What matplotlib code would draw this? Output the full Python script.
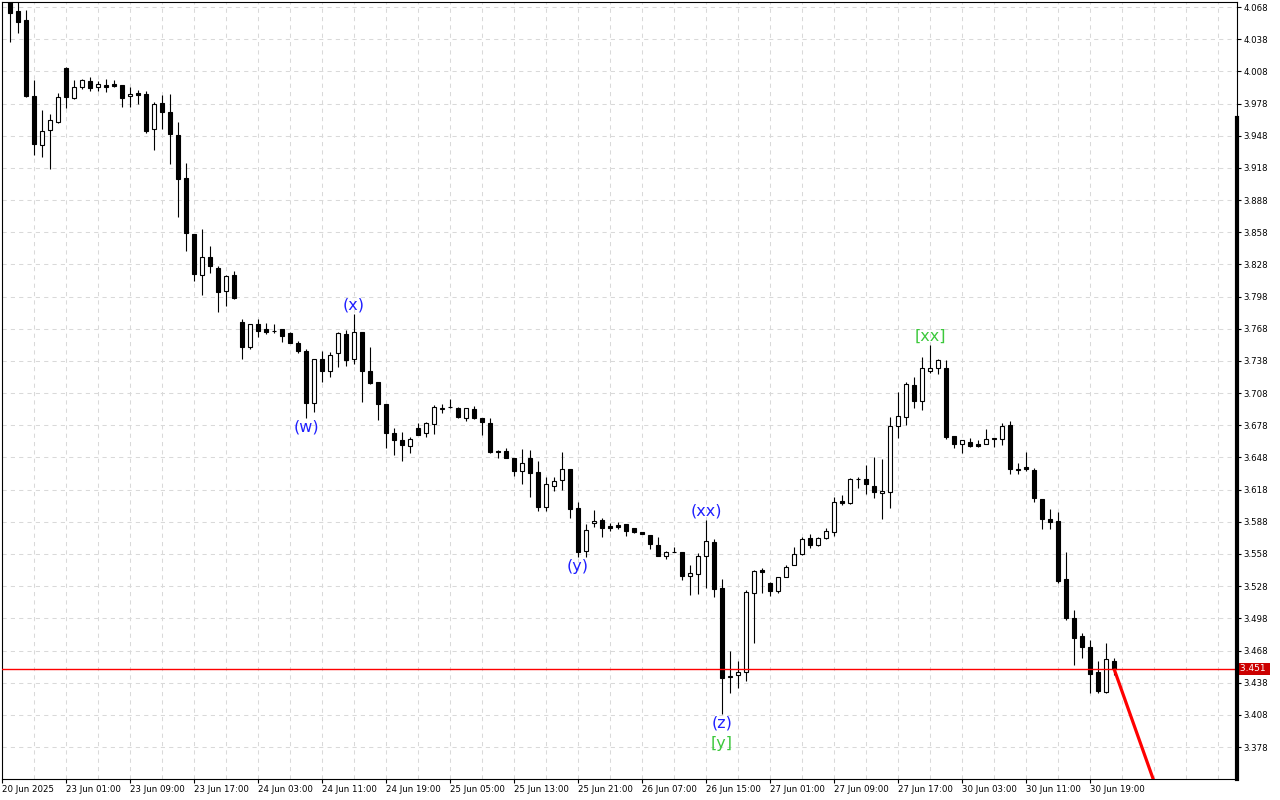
import matplotlib.pyplot as plt
from matplotlib.lines import Line2D
import numpy as np

# hourly bars, index 0 = first visible candle
opens = [4.075, 4.0643, 4.0559, 3.985, 3.9393, 3.9533, 3.9608, 4.0111, 3.983, 3.9934,
         3.999, 3.9934, 3.9953, 3.9962, 3.9953, 3.985, 3.9878, 3.9869, 3.9543, 3.9785,
         3.9701, 3.9487, 3.9086, 3.8563, 3.8181, 3.8349, 3.8247, 3.8032, 3.8181, 3.7743,
         3.751, 3.7724, 3.7678, 3.7662, 3.7678, 3.764, 3.7547, 3.7473, 3.6988, 3.7398,
         3.7286, 3.7454, 3.7631, 3.7398, 3.765, 3.7286, 3.7184, 3.6978, 3.6708, 3.6643,
         3.6587, 3.6755, 3.6708, 3.6792, 3.6936, 3.6947, 3.6941, 3.6848, 3.6932, 3.6848,
         3.6801, 3.654, 3.654, 3.6475, 3.6354, 3.6475, 3.6344, 3.6018, 3.6214, 3.627,
         3.6372, 3.6009, 3.5608, 3.5869, 3.5897, 3.5841, 3.585, 3.5859, 3.5822, 3.5785,
         3.5757, 3.5664, 3.5561, 3.5596, 3.5598, 3.5375, 3.5393, 3.5561, 3.5692, 3.5263,
         3.4433, 3.4452, 3.448, 3.5216, 3.543, 3.5309, 3.5235, 3.5365, 3.5477, 3.558,
         3.5729, 3.5664, 3.5729, 3.5785, 3.6074, 3.6055, 3.6275, 3.6279, 3.6214, 3.6149,
         3.6158, 3.6773, 3.6857, 3.7156, 3.7006, 3.7286, 3.7314, 3.7314, 3.668, 3.6605,
         3.6624, 3.6605, 3.6605, 3.6661, 3.6652, 3.6783, 3.6372, 3.6391, 3.6363, 3.6093,
         3.5906, 3.5888, 3.5347, 3.4983, 3.4815, 3.4713, 3.448, 3.4293, 3.4582]
highs = [4.080, 4.074, 4.0652, 4.000, 3.972, 3.968, 3.988, 4.012, 4.000, 4.0009,
         4.0027, 3.999, 4.0009, 3.9999, 3.9953, 3.9934, 3.9906, 3.9897, 3.9794, 3.986,
         3.9869, 3.9608, 3.9225, 3.8563, 3.861, 3.8452, 3.8265, 3.8181, 3.8218, 3.7771,
         3.7724, 3.7771, 3.7734, 3.7724, 3.7678, 3.765, 3.7566, 3.7491, 3.7398, 3.7473,
         3.7464, 3.765, 3.7669, 3.7818, 3.765, 3.751, 3.7184, 3.6978, 3.6755, 3.6718,
         3.6671, 3.6801, 3.6811, 3.6969, 3.6978, 3.7025, 3.695, 3.6941, 3.696, 3.6848,
         3.6848, 3.655, 3.6568, 3.6475, 3.6559, 3.655, 3.6447, 3.6298, 3.6298, 3.6531,
         3.6372, 3.6065, 3.5859, 3.599, 3.5915, 3.5869, 3.5878, 3.5859, 3.5822, 3.5785,
         3.5757, 3.5738, 3.5608, 3.5645, 3.5598, 3.5477, 3.5589, 3.5897, 3.572, 3.5347,
         3.4675, 3.4582, 3.5244, 3.543, 3.5449, 3.5319, 3.5365, 3.5477, 3.5645, 3.5738,
         3.5766, 3.5738, 3.5822, 3.6111, 3.613, 3.6288, 3.6298, 3.641, 3.6484, 3.6465,
         3.6857, 3.709, 3.7184, 3.723, 3.7417, 3.7529, 3.7398, 3.7389, 3.668, 3.6643,
         3.6661, 3.6643, 3.6745, 3.6661, 3.6801, 3.682, 3.6428, 3.6531, 3.6382, 3.6093,
         3.600, 3.5972, 3.5598, 3.5058, 3.4843, 3.4778, 3.4582, 3.475, 3.461]
lows = [4.0354, 4.0438, 3.984, 3.930, 3.928, 3.917, 3.960, 3.9738, 3.982, 3.9916,
        3.9897, 3.9897, 3.9888, 3.9934, 3.9748, 3.9748, 3.9776, 3.9505, 3.9347, 3.9543,
        3.9216, 3.8722, 3.8405, 3.8125, 3.7995, 3.820, 3.7836, 3.7892, 3.7958, 3.7398,
        3.7491, 3.7603, 3.7631, 3.764, 3.7556, 3.7547, 3.7454, 3.6848, 3.6904, 3.7184,
        3.723, 3.7323, 3.7333, 3.7351, 3.6997, 3.7165, 3.6829, 3.6568, 3.6503, 3.6447,
        3.6522, 3.6689, 3.6671, 3.6699, 3.6894, 3.6945, 3.6848, 3.682, 3.6838, 3.6689,
        3.6522, 3.6475, 3.6475, 3.6307, 3.6232, 3.6111, 3.5981, 3.5981, 3.6167, 3.6176,
        3.5916, 3.5552, 3.5552, 3.5832, 3.5738, 3.5794, 3.5813, 3.5748, 3.5776, 3.5766,
        3.5627, 3.5561, 3.5533, 3.5596, 3.5337, 3.5197, 3.5207, 3.5263, 3.5179, 3.4088,
        3.4284, 3.433, 3.4396, 3.475, 3.5216, 3.5188, 3.5216, 3.5365, 3.5477, 3.557,
        3.5636, 3.5655, 3.572, 3.5748, 3.6037, 3.6046, 3.6195, 3.6139, 3.6102, 3.5906,
        3.6009, 3.6662, 3.6783, 3.6941, 3.6922, 3.7267, 3.7258, 3.6652, 3.6568, 3.6522,
        3.6577, 3.6577, 3.6605, 3.6577, 3.6596, 3.6326, 3.6326, 3.6354, 3.6065, 3.5813,
        3.5813, 3.5309, 3.4964, 3.4545, 3.461, 3.4284, 3.4284, 3.4284, 3.4452]
closes = [4.0624, 4.054, 3.985, 3.940, 3.9524, 3.9626, 3.984, 3.984, 3.993, 3.9999,
          3.9925, 3.9962, 3.9934, 3.9943, 3.9831, 3.9869, 3.986, 3.9524, 3.9776, 3.9701,
          3.9496, 3.9076, 3.8573, 3.819, 3.8349, 3.8265, 3.8023, 3.8172, 3.7967, 3.751,
          3.7724, 3.7659, 3.765, 3.7659, 3.7613, 3.7547, 3.7473, 3.6988, 3.7398, 3.7286,
          3.7436, 3.764, 3.7389, 3.765, 3.7286, 3.7174, 3.6978, 3.6708, 3.6643, 3.6596,
          3.6652, 3.6689, 3.6801, 3.695, 3.6941, 3.695, 3.6857, 3.6941, 3.6848, 3.6811,
          3.6531, 3.6531, 3.6475, 3.6354, 3.6428, 3.6335, 3.6018, 3.6232, 3.626, 3.6372,
          3.600, 3.5598, 3.5804, 3.5887, 3.5822, 3.5822, 3.5832, 3.5794, 3.5785, 3.5766,
          3.5673, 3.5561, 3.5598, 3.5598, 3.5375, 3.5402, 3.5561, 3.5701, 3.5253, 3.4424,
          3.4442, 3.448, 3.5225, 3.5421, 3.5412, 3.5235, 3.5365, 3.5458, 3.558, 3.572,
          3.5664, 3.5729, 3.5794, 3.6065, 3.6055, 3.6279, 3.6279, 3.6232, 3.6158, 3.6167,
          3.6773, 3.6866, 3.7165, 3.7006, 3.7314, 3.7314, 3.7389, 3.667, 3.6605, 3.6643,
          3.6587, 3.6587, 3.6652, 3.6652, 3.6773, 3.6372, 3.6363, 3.6372, 3.6102, 3.5906,
          3.5878, 3.5328, 3.4983, 3.4797, 3.4713, 3.4461, 3.4302, 3.4601, 3.451]

time_tick_bars = [-1, 7, 15, 23, 31, 39, 47, 55, 63, 71, 79, 87, 95, 103, 111, 119, 127, 135]
time_tick_labels = ["20 Jun 2025", "23 Jun 01:00", "23 Jun 09:00", "23 Jun 17:00",
                    "24 Jun 03:00", "24 Jun 11:00", "24 Jun 19:00", "25 Jun 05:00",
                    "25 Jun 13:00", "25 Jun 21:00", "26 Jun 07:00", "26 Jun 15:00",
                    "27 Jun 01:00", "27 Jun 09:00", "27 Jun 17:00", "30 Jun 03:00",
                    "30 Jun 11:00", "30 Jun 19:00"]
price_ticks = [3.378, 3.408, 3.438, 3.468, 3.498, 3.528, 3.558, 3.588, 3.618, 3.648,
               3.678, 3.708, 3.738, 3.768, 3.798, 3.828, 3.858, 3.888, 3.918, 3.948,
               3.978, 4.008, 4.038, 4.068]

last_price = 3.451
forecast_bars = [138, 143]
forecast_prices = [3.451, 3.346]

wave_labels = ["(w)", "(x)", "(y)", "(xx)", "(z)", "[y]", "[xx]"]
wave_bars = [37, 43, 71, 87, 89, 89, 115]
wave_anchor = ["low", "high", "low", "high", "low", "low", "high"]
wave_degree = ["minor", "minor", "minor", "minor", "minor", "major", "major"]

W, H = 1280, 800
fig = plt.figure(figsize=(W / 100, H / 100), dpi=100, facecolor="white")
ax = fig.add_axes([2 / W, 1 - 779 / H, 1235 / W, 777 / H])
ax.set_xlim(-1, 153.375)
ax.set_ylim(3.3482, 4.0727)

# grid
grid_kw = dict(color="#d9d9d9", lw=0.75, ls=(0, (4, 4)), zorder=0)
for b in range(-1, 154, 4):
    ax.axvline(b, **grid_kw)
for p in price_ticks:
    ax.axhline(p, **grid_kw)

# candles
o = np.array(opens)
h = np.array(highs)
lo = np.array(lows)
c = np.array(closes)
x = np.arange(len(o))
up = c >= o
ax.vlines(x, lo, h, color="black", lw=0.8, zorder=2)
body_lo = np.minimum(o, c)
body_h = np.abs(c - o)
ax.bar(x[up], body_h[up], bottom=body_lo[up], width=0.62, facecolor="white",
       edgecolor="black", lw=0.8, zorder=3)
ax.bar(x[~up], body_h[~up], bottom=body_lo[~up], width=0.62, facecolor="black",
       edgecolor="black", lw=0.8, zorder=3)

# current price + forecast line
ax.axhline(last_price, color="#ff0000", lw=1.0, zorder=4)
ax.plot(forecast_bars, forecast_prices, color="#ff0000", lw=2.3, zorder=5,
        solid_capstyle="butt")

# wave labels
colors = {"minor": "#1f1fff", "major": "#3cc83c"}
for txt, b, side, deg in zip(wave_labels, wave_bars, wave_anchor, wave_degree):
    if side == "high":
        y0, dy = highs[b], 6.5
    else:
        y0 = lows[b]
        dy = -6.5 if deg == "minor" else -21
    ax.annotate(txt, xy=(b, y0), xytext=(0, dy), textcoords="offset points",
                ha="center", va="center", color=colors[deg], fontsize=11.5, zorder=6)

# axes styling
for s in ax.spines.values():
    s.set_color("black")
    s.set_linewidth(0.8)
ax.yaxis.tick_right()
ax.set_yticks(price_ticks)
ax.set_yticklabels([f"{p:.3f}" for p in price_ticks])
ax.set_xticks(time_tick_bars)
ax.set_xticklabels(time_tick_labels, ha="left")
ax.tick_params(axis="both", direction="out", length=3, width=0.8, labelsize=6.2,
               colors="black", pad=1.5)

ax.text(1.0, last_price, f" {last_price:.3f} ", transform=ax.get_yaxis_transform(),
        ha="left", va="center", color="white", fontsize=6.5, zorder=10,
        bbox=dict(boxstyle="square,pad=0.15", fc="#cc0000", ec="none"))

# scroll marker on the right edge
fig.add_artist(Line2D([1237 / W, 1237 / W], [1 - 118 / H, 1 - 779 / H],
                      color="black", lw=3, transform=fig.transFigure))

fig.savefig("out.png", dpi=100, facecolor="white")
